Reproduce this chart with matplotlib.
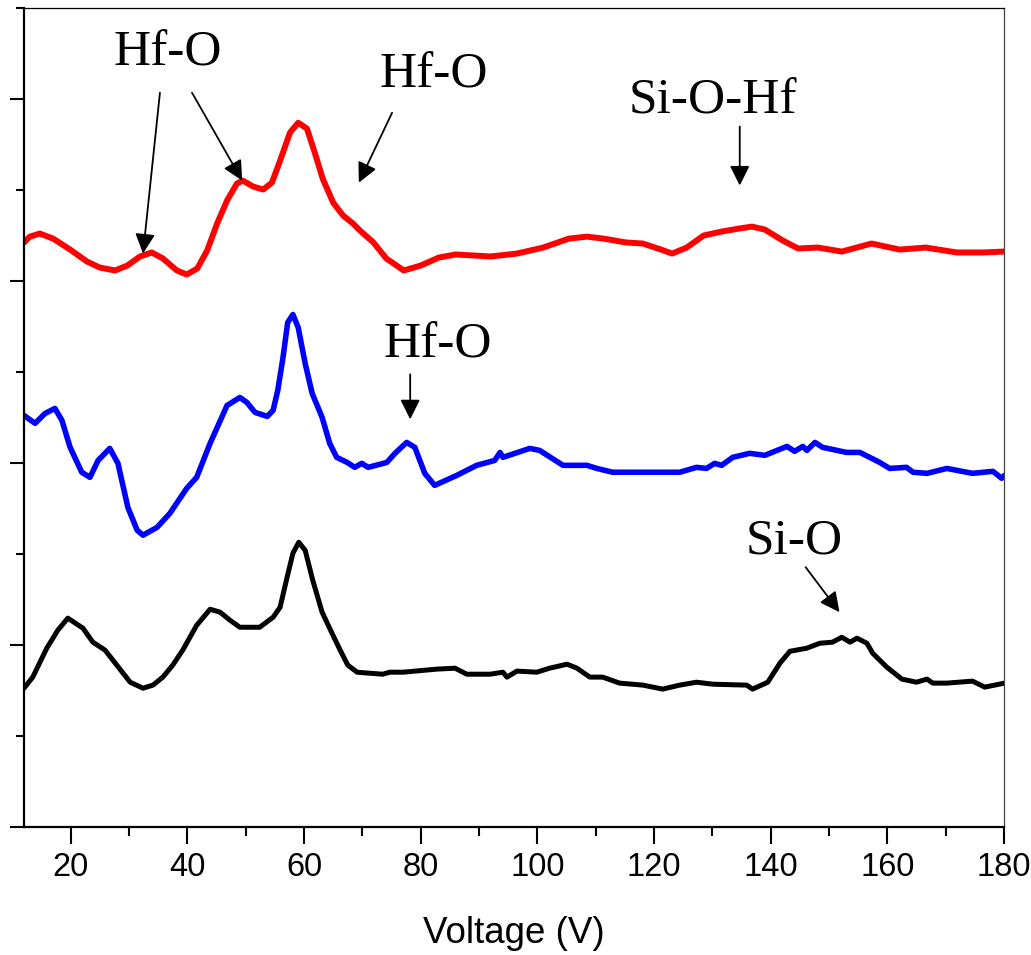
import matplotlib
matplotlib.use("Agg")
import matplotlib.pyplot as plt
from matplotlib.ticker import MultipleLocator, NullFormatter

# Voltage axis (V) and offset intensities (a.u.) for the three traces
RED_V = [12.0, 13.0, 14.7, 17.0, 19.9, 22.8, 25.0, 27.6, 29.7, 31.9, 33.9, 35.8,
         38.2, 39.9, 41.7, 43.4, 45.1, 46.8, 48.5, 49.5, 51.3, 53.0, 54.5, 55.9,
         57.6, 59.0, 60.5, 61.9, 63.2, 65.0, 66.7, 68.4, 69.6, 71.9, 74.1, 77.1,
         80.0, 83.1, 86.0, 92.0, 96.5, 101.0, 105.4, 108.5, 111.4, 115.2, 118.1,
         121.2, 123.1, 125.6, 128.5, 131.6, 134.5, 136.8, 139.0, 142.1, 144.7,
         148.1, 152.2, 157.3, 162.1, 166.6, 171.9, 176.4, 180.0]
RED_I = [3.213, 3.245, 3.262, 3.234, 3.174, 3.108, 3.075, 3.059, 3.086, 3.136,
         3.158, 3.125, 3.059, 3.037, 3.070, 3.169, 3.317, 3.443, 3.537, 3.553,
         3.520, 3.504, 3.542, 3.663, 3.817, 3.871, 3.839, 3.701, 3.564, 3.432,
         3.361, 3.317, 3.278, 3.213, 3.125, 3.059, 3.086, 3.130, 3.147, 3.136,
         3.152, 3.185, 3.234, 3.245, 3.234, 3.213, 3.207, 3.174, 3.152, 3.185,
         3.251, 3.273, 3.289, 3.300, 3.284, 3.223, 3.180, 3.185, 3.163, 3.207,
         3.174, 3.185, 3.158, 3.158, 3.163]

BLUE_V = [12.0, 13.9, 15.6, 17.3, 18.5, 19.9, 21.9, 23.3, 24.7, 26.7, 28.1, 29.8,
          31.4, 32.4, 34.8, 37.0, 39.9, 41.6, 43.9, 46.8, 49.0, 50.2, 51.6, 53.7,
          54.7, 55.5, 56.4, 57.2, 58.1, 59.0, 60.2, 61.4, 63.1, 64.4, 65.6, 67.4,
          68.7, 69.9, 71.0, 74.2, 75.6, 77.6, 79.0, 80.7, 82.4, 86.2, 89.6, 92.7,
          93.6, 94.1, 98.7, 100.4, 104.4, 108.5, 110.2, 112.9, 118.8, 124.4, 127.3,
          129.0, 130.4, 131.6, 133.5, 136.4, 139.0, 142.8, 144.1, 145.5, 146.2,
          147.6, 148.9, 153.0, 155.3, 158.7, 160.4, 163.3, 164.4, 166.8, 170.2,
          174.6, 178.1, 179.6, 180.1]
BLUE_I = [2.262, 2.219, 2.273, 2.301, 2.235, 2.087, 1.950, 1.922, 2.015, 2.081,
          1.999, 1.757, 1.631, 1.604, 1.647, 1.724, 1.862, 1.922, 2.109, 2.317,
          2.361, 2.334, 2.279, 2.257, 2.290, 2.400, 2.581, 2.773, 2.817, 2.746,
          2.548, 2.383, 2.252, 2.109, 2.032, 2.004, 1.977, 1.999, 1.977, 2.004,
          2.054, 2.114, 2.087, 1.944, 1.878, 1.933, 1.988, 2.015, 2.059, 2.032,
          2.081, 2.070, 1.988, 1.988, 1.971, 1.950, 1.950, 1.950, 1.977, 1.971,
          1.999, 1.988, 2.032, 2.054, 2.043, 2.092, 2.065, 2.092, 2.070, 2.114,
          2.087, 2.059, 2.059, 2.004, 1.971, 1.977, 1.950, 1.944, 1.971, 1.944,
          1.955, 1.917, 1.933]

BLACK_V = [12.0, 13.5, 15.9, 17.8, 19.5, 22.1, 23.8, 25.9, 27.9, 30.2, 32.4, 34.1,
           35.8, 37.5, 39.2, 41.6, 43.9, 45.6, 47.3, 49.0, 52.4, 54.7, 55.9, 57.1,
           58.1, 59.1, 60.2, 61.5, 63.1, 64.8, 66.2, 67.5, 69.1, 71.0, 73.5, 74.7,
           77.0, 82.8, 85.9, 87.9, 91.9, 94.1, 94.8, 96.5, 99.9, 102.1, 105.1,
           106.8, 109.0, 111.2, 114.1, 118.1, 121.5, 124.4, 127.3, 130.1, 135.9,
           136.9, 139.5, 141.6, 143.3, 146.2, 148.4, 150.6, 152.2, 153.6, 154.8,
           156.5, 157.5, 159.9, 162.5, 165.0, 166.8, 167.8, 170.2, 174.6, 176.7,
           180.1]
BLACK_I = [0.763, 0.824, 0.983, 1.082, 1.148, 1.093, 1.016, 0.972, 0.890, 0.796,
           0.763, 0.780, 0.824, 0.890, 0.972, 1.109, 1.197, 1.181, 1.137, 1.098,
           1.098, 1.153, 1.208, 1.373, 1.505, 1.565, 1.521, 1.356, 1.181, 1.065,
           0.972, 0.890, 0.851, 0.846, 0.840, 0.851, 0.851, 0.868, 0.873, 0.840,
           0.840, 0.851, 0.824, 0.857, 0.851, 0.873, 0.895, 0.873, 0.824, 0.824,
           0.791, 0.780, 0.758, 0.780, 0.796, 0.785, 0.780, 0.758, 0.796, 0.901,
           0.966, 0.983, 1.010, 1.016, 1.043, 1.016, 1.038, 1.010, 0.955, 0.879,
           0.813, 0.796, 0.813, 0.791, 0.791, 0.802, 0.769, 0.791]

# peak labels: text, text (x, baseline y), arrow tail, arrow tip
LABELS = ["Hf-O", "Hf-O", "Si-O-Hf", "Hf-O", "Si-O"]
LABEL_POS = [(36.7, 4.185), (82.3, 4.064), (130.1, 3.921), (83.0, 2.581), (144.0, 1.505)]
ARROWS = [((35.3, 4.036), (32.4, 3.152)),
          ((40.8, 4.036), (49.4, 3.553)),
          ((75.1, 3.926), (69.4, 3.542)),
          ((134.7, 3.850), (134.7, 3.526)),
          ((78.2, 2.488), (78.2, 2.241)),
          ((146.0, 1.428), (151.8, 1.181))]

fig = plt.figure(figsize=(10.31, 9.55), dpi=100)
ax = fig.add_axes([0.0233, 0.134, 0.9505, 0.8573])

ax.plot(RED_V, RED_I, color="#ff0000", lw=4.3, solid_joinstyle="round",
        solid_capstyle="round")
ax.plot(BLUE_V, BLUE_I, color="#0000ff", lw=4.0, solid_joinstyle="round",
        solid_capstyle="round")
ax.plot(BLACK_V, BLACK_I, color="black", lw=3.6, solid_joinstyle="round",
        solid_capstyle="round")

for text, (x, y) in zip(LABELS, LABEL_POS):
    ax.text(x, y, text, ha="center", va="baseline", fontsize=37,
            family="Liberation Serif")

for tail, tip in ARROWS:
    ax.annotate("", xy=tip, xytext=tail,
                arrowprops=dict(arrowstyle="-|>", color="black", lw=1.3,
                                mutation_scale=30, shrinkA=0, shrinkB=0))

ax.set_xlim(12, 180)
ax.set_ylim(0, 4.5)
ax.xaxis.set_major_locator(MultipleLocator(20))
ax.xaxis.set_minor_locator(MultipleLocator(10))
ax.yaxis.set_major_locator(MultipleLocator(1))
ax.yaxis.set_minor_locator(MultipleLocator(0.5))
ax.yaxis.set_major_formatter(NullFormatter())

ax.tick_params(axis="x", which="major", length=12, width=1.5, direction="out",
               labelsize=23.5, pad=6)
ax.tick_params(axis="x", which="minor", length=6.5, width=1.5, direction="out")
ax.tick_params(axis="y", which="major", length=10, width=1.5, direction="out")
ax.tick_params(axis="y", which="minor", length=6, width=1.5, direction="out")
for lab in ax.get_xticklabels():
    lab.set_family("Liberation Sans")

ax.spines["left"].set_linewidth(1.6)
ax.spines["bottom"].set_linewidth(1.6)
ax.spines["top"].set_linewidth(0.9)
ax.spines["right"].set_linewidth(0.9)
ax.spines["right"].set_color("#444444")

ax.set_xlabel("Voltage (V)", fontsize=26.5, family="Liberation Sans")
ax.xaxis.set_label_coords(0.5, -0.1417)
ax.xaxis.label.set_verticalalignment("baseline")

fig.savefig("out.png", dpi=100)
